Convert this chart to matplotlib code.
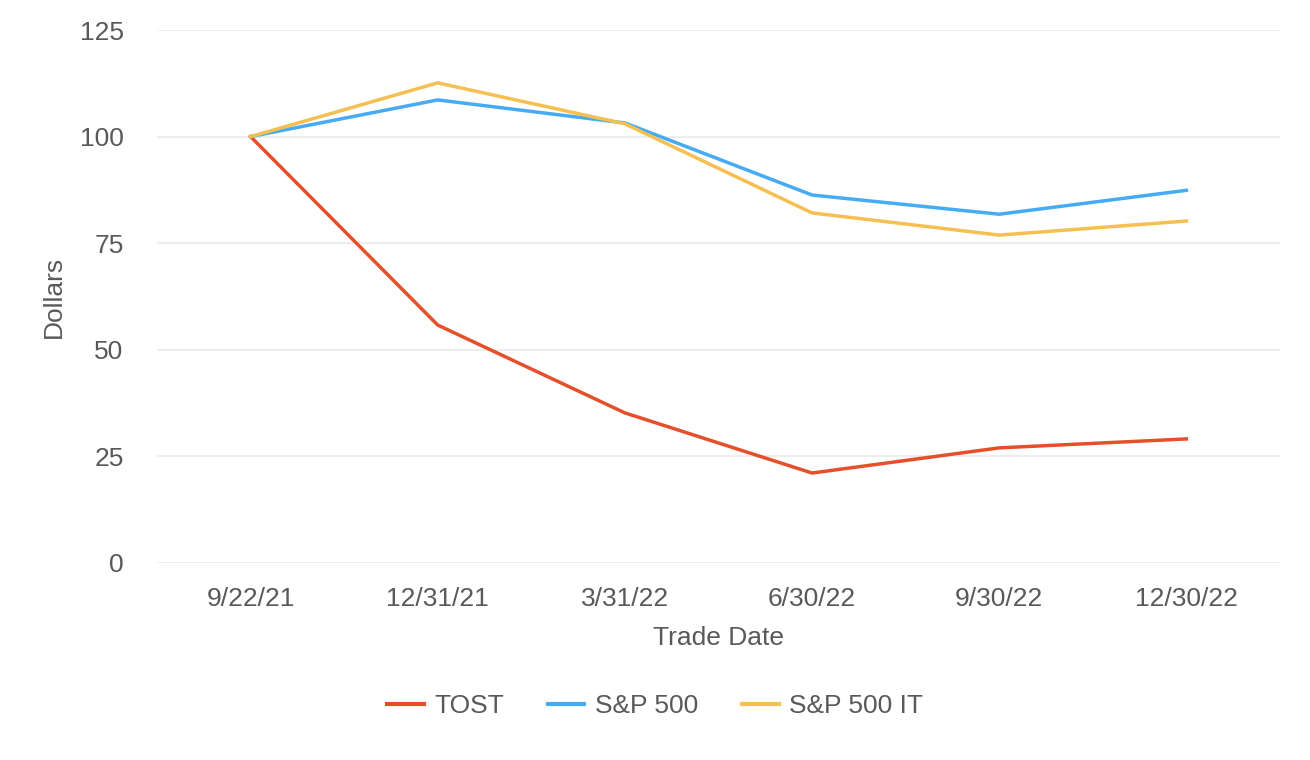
import numpy as np
import matplotlib.pyplot as plt

plt.rcParams['font.family'] = ['Liberation Sans', 'DejaVu Sans']

# data
dates = ["9/22/21", "12/31/21", "3/31/22", "6/30/22", "9/30/22", "12/30/22"]
tost = [100, 55.8, 35.2, 21.1, 27.0, 29.1]
sp500 = [100, 108.6, 103.2, 86.3, 81.8, 87.4]
sp500_it = [100, 112.6, 103.0, 82.1, 76.9, 80.2]

txt = "#595959"
fs = 19

fig = plt.figure(figsize=(13.1, 7.6), dpi=100, facecolor="white")
ax = fig.add_axes([157/1310, 1-563/760, (1280-157)/1310, (563-30)/760])

x = np.arange(len(dates))
ax.plot(x, tost, color="#E5502A", lw=2.5, label="TOST")
ax.plot(x, sp500, color="#45ABF3", lw=2.5, label="S&P 500")
ax.plot(x, sp500_it, color="#F5BF52", lw=2.5, label="S&P 500 IT")

ax.set_xlim(-0.5, len(dates)-0.5)
ax.set_ylim(0, 125)
ax.set_yticks([0, 25, 50, 75, 100, 125])
ax.set_xticks(x)
ax.set_xticklabels(dates)
ax.tick_params(axis="both", length=0, labelsize=fs, colors=txt)
ax.tick_params(axis="y", pad=24)
ax.tick_params(axis="x", pad=17)
ax.grid(axis="y", color="#e8e8e8", lw=1.1)
ax.set_axisbelow(True)
for s in ax.spines.values():
    s.set_visible(False)

ax.set_xlabel("Trade Date", fontsize=fs, color=txt, labelpad=11)
ax.set_ylabel("Dollars", fontsize=fs, color=txt, labelpad=10)

leg = fig.legend(loc="center", bbox_to_anchor=(0.5, 1-706/760), ncol=3, frameon=False,
                 fontsize=fs, handlelength=1.4, columnspacing=1.65, handletextpad=0.4)
for t in leg.get_texts():
    t.set_color(txt)
for h in leg.get_lines():
    h.set_linewidth(3)

fig.savefig("out.png", dpi=100, facecolor="white")
